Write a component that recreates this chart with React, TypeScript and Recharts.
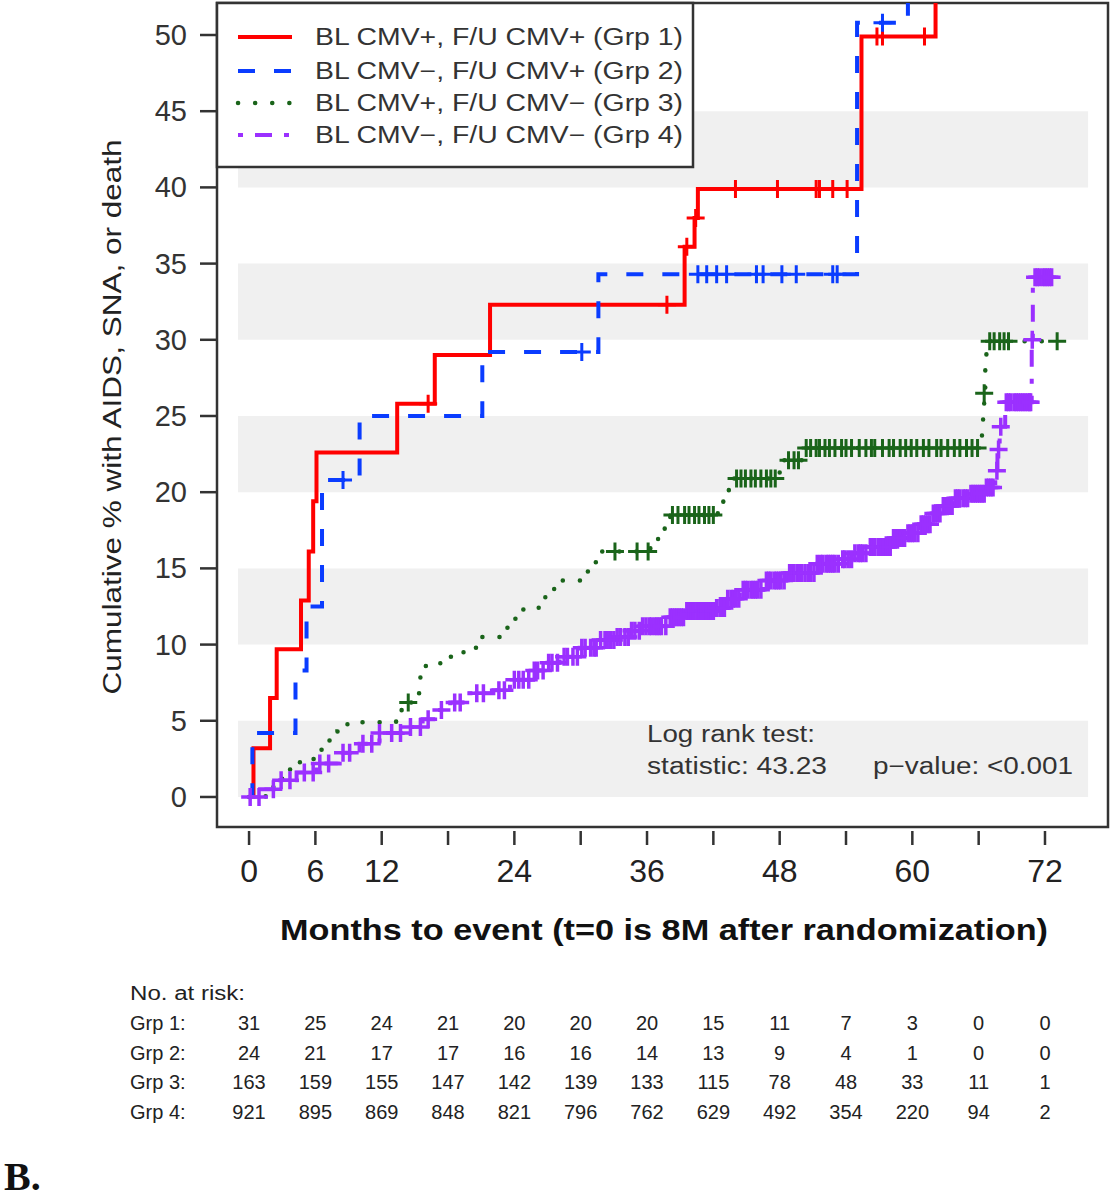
import React from 'react';
import {
  ComposedChart,
  Line,
  Scatter,
  XAxis,
  YAxis,
  ReferenceArea,
} from 'recharts';

// ---- data (months, cumulative %) ----
const GRP1_T = [0, 0.4, 1.9, 2.5, 4.7, 5.4, 5.8, 6.1, 13.4, 16.8, 21.8, 39.4, 40.3, 40.6, 55.4, 62.1];
const GRP1_V = [0, 3.2, 6.5, 9.7, 12.9, 16.1, 19.4, 22.6, 25.8, 29.0, 32.3, 36.1, 38.0, 39.9, 49.9, 70];
const GRP1_CENSOR = [16.2, 37.8, 39.6, 40.4, 44.0, 47.8, 51.3, 51.6, 52.8, 54.1, 56.8, 57.3, 61.1];

const GRP2_T = [0, 0.3, 4.2, 5.2, 6.6, 10.0, 21.1, 31.6, 55.0, 59.6];
const GRP2_V = [0, 4.2, 8.3, 12.5, 20.8, 25.0, 29.2, 34.3, 50.8, 70];
const GRP2_CENSOR = [8.5, 30.1, 40.6, 41.4, 42.3, 43.2, 45.9, 46.5, 48.2, 49.5, 52.8, 53.2, 57.3];

const GRP3_T = [0, 1.5, 2.2, 3.5, 4.6, 6.0, 7.0, 8.0, 8.9, 13.3, 13.8, 15.2, 15.4, 15.5, 15.6, 17.3, 19.4, 20.6, 22.8, 23.5, 24.2, 26.2, 26.8, 27.6, 30.2, 30.7, 31.4, 36.3, 37.0, 37.6, 38.1, 42.4, 42.9, 43.4, 43.8, 48.0, 48.4, 50.1, 66.3, 66.4, 66.5, 66.6, 66.7, 73.1];
const GRP3_V = [0, 0.6, 1.2, 1.8, 2.5, 3.1, 3.7, 4.3, 4.9, 5.5, 6.2, 6.8, 7.4, 8.0, 8.6, 9.2, 9.8, 10.5, 11.1, 11.7, 12.3, 12.9, 13.5, 14.2, 14.8, 15.4, 16.1, 16.7, 17.3, 17.9, 18.5, 19.1, 19.7, 20.3, 20.9, 21.5, 22.1, 22.9, 24.0, 25.1, 26.5, 28.0, 29.9, 29.9];
const GRP3_CENSOR = [14.4, 33.1, 35.1, 36.1, 38.3, 38.8, 39.4, 39.8, 40.3, 40.7, 41.2, 41.6, 42.0, 44.1, 44.5, 44.9, 45.4, 45.8, 46.3, 46.8, 47.2, 47.6, 48.8, 49.3, 49.7, 50.4, 50.8, 51.3, 51.6, 52.1, 52.5, 53.0, 53.6, 54.0, 54.5, 55.2, 55.8, 56.3, 56.6, 57.3, 57.9, 58.3, 58.9, 59.4, 59.9, 60.4, 61.0, 61.5, 62.2, 62.6, 63.2, 63.8, 64.3, 64.9, 65.4, 65.9, 66.5, 67.0, 67.4, 67.9, 68.3, 68.7, 73.1];

const GRP4_T = [0, 1.0, 2.5, 4.3, 6.1, 8.2, 10.0, 11.8, 13.9, 15.7, 17.0, 18.2, 19.7, 22.1, 23.6, 25.7, 27.0, 28.1, 29.9, 31.7, 33.3, 34.5, 35.6, 37.8, 39.6, 42.3, 43.3, 44.4, 46.5, 48.6, 51.4, 53.4, 54.7, 55.9, 58.2, 59.5, 60.6, 61.8, 62.8, 63.7, 65.2, 66.7, 67.5, 67.6, 67.7, 67.9, 68.4, 70.8, 70.9, 72.7];
const GRP4_V = [0, 0.5, 1.1, 1.6, 2.2, 2.9, 3.5, 4.2, 4.6, 5.1, 5.7, 6.2, 6.8, 7.0, 7.7, 8.3, 8.8, 9.2, 9.8, 10.3, 10.5, 10.9, 11.2, 11.8, 12.2, 12.4, 13.0, 13.6, 14.2, 14.7, 15.3, 15.6, 16.0, 16.4, 17.0, 17.3, 17.9, 18.6, 19.1, 19.6, 19.9, 20.3, 20.8, 21.4, 22.8, 24.3, 25.9, 30.0, 34.1, 34.1];
const GRP4_CENSOR = [
  0.1, 0.9, 2.2, 2.9, 3.7, 5.0, 5.8, 6.4, 7.2, 8.5, 9.1, 10.3, 11.1, 11.8, 12.9, 13.7, 14.6, 15.5, 16.2, 17.4,
  18.6, 19.1, 20.6, 21.2, 22.6, 23.1, 24.0, 24.4, 24.8, 25.3, 25.8, 26.1, 26.6, 27.1, 27.4, 27.9, 28.5, 28.8, 29.3,
  29.7, 30.1, 30.4, 30.9, 31.2, 31.4, 31.8, 32.2, 32.4, 32.7, 33.0, 33.3, 33.6, 34.0, 34.3, 34.6, 34.9, 35.3, 35.6,
  35.9, 36.2, 36.4, 36.7, 36.9, 37.1, 37.3, 37.7, 38.1, 38.3, 38.5, 38.7, 38.9, 39.1, 39.3, 39.6, 39.8, 40.0, 40.2,
  40.5, 40.7, 40.9, 41.1, 41.4, 41.6, 41.8, 42.0, 42.3, 42.6, 42.8, 43.0, 43.3, 43.6, 43.8, 44.0, 44.3, 44.7, 44.9,
  45.1, 45.4, 45.6, 45.8, 46.0, 46.3, 46.8, 47.0, 47.2, 47.5, 47.7, 47.9, 48.1, 48.4, 48.9, 49.1, 49.3, 49.6, 49.8,
  50.0, 50.3, 50.6, 50.8, 51.1, 51.4, 51.7, 51.9, 52.2, 52.4, 52.6, 52.8, 53.0, 53.3, 53.7, 53.9, 54.2, 54.5, 54.8,
  55.1, 55.3, 55.5, 55.8, 56.2, 56.4, 56.6, 56.9, 57.1, 57.4, 57.6, 57.8, 58.0, 58.3, 58.5, 58.7, 58.9, 59.1, 59.3,
  59.6, 59.8, 60.0, 60.2, 60.5, 60.8, 61.0, 61.2, 61.4, 61.6, 61.9, 62.1, 62.3, 62.5, 62.8, 63.0, 63.2, 63.4, 63.6,
  63.9, 64.1, 64.3, 64.6, 64.8, 65.0, 65.3, 65.5, 65.7, 65.9, 66.1, 66.3, 66.5, 66.7, 66.9, 67.1, 67.3, 67.65, 67.8,
  68.0, 68.5, 68.7, 68.9, 69.2, 69.4, 69.6, 69.8, 70.0, 70.2, 70.4, 70.6, 70.7, 70.85, 71.1, 71.3, 71.5, 71.8, 72.0,
  72.2, 72.4, 72.6,
];

const X_TICKS = [0, 6, 12, 18, 24, 30, 36, 42, 48, 54, 60, 66, 72];
const X_LABELED = [0, 6, 12, 24, 36, 48, 60, 72];
const Y_TICKS = [0, 5, 10, 15, 20, 25, 30, 35, 40, 45, 50];
const BANDS = [[0, 5], [10, 15], [20, 25], [30, 35], [40, 45]];

const LEGEND_LABELS = [
  'BL CMV+, F/U CMV+ (Grp 1)',
  'BL CMV\u2212, F/U CMV+ (Grp 2)',
  'BL CMV+, F/U CMV\u2212 (Grp 3)',
  'BL CMV\u2212, F/U CMV\u2212 (Grp 4)',
];

const RISK_ROWS = ['Grp 1:', 'Grp 2:', 'Grp 3:', 'Grp 4:'];
const RISK_1 = [31, 25, 24, 21, 20, 20, 20, 15, 11, 7, 3, 0, 0];
const RISK_2 = [24, 21, 17, 17, 16, 16, 14, 13, 9, 4, 1, 0, 0];
const RISK_3 = [163, 159, 155, 147, 142, 139, 133, 115, 78, 48, 33, 11, 1];
const RISK_4 = [921, 895, 869, 848, 821, 796, 762, 629, 492, 354, 220, 94, 2];

// ---- layout ----
const X_DOMAIN = [-2.9, 77.7];
const Y_DOMAIN = [-1.97, 52.1];
const PLOT = { left: 217, top: 3, right: 1108, bottom: 827 };
const FONT = '"Liberation Sans", Arial, sans-serif';
const COLORS = ['#ff0000', '#0a3cff', '#1a641a', '#9b30ff'];
const DASHES = [undefined, '17 19', '0.1 17', '5 12 17 12'];

const toSteps = (t: number[], v: number[]) => t.map((x, i) => ({ t: x, v: v[i] }));
const valueAt = (t: number[], v: number[], x: number) => {
  let out = 0;
  for (let i = 0; i < t.length; i++) if (t[i] <= x) out = v[i];
  return out;
};
const toCensor = (t: number[], v: number[], c: number[]) => c.map((x) => ({ t: x, v: valueAt(t, v, x) }));

const GROUPS = [
  { steps: toSteps(GRP1_T, GRP1_V), censor: toCensor(GRP1_T, GRP1_V, GRP1_CENSOR) },
  { steps: toSteps(GRP2_T, GRP2_V), censor: toCensor(GRP2_T, GRP2_V, GRP2_CENSOR) },
  { steps: toSteps(GRP3_T, GRP3_V), censor: toCensor(GRP3_T, GRP3_V, GRP3_CENSOR) },
  { steps: toSteps(GRP4_T, GRP4_V), censor: toCensor(GRP4_T, GRP4_V, GRP4_CENSOR) },
];

const xPx = (m: number) =>
  PLOT.left + ((m - X_DOMAIN[0]) / (X_DOMAIN[1] - X_DOMAIN[0])) * (PLOT.right - PLOT.left);

const plusShape = (color: string, w: number) => (props: any) => {
  const { cx, cy } = props;
  if (cx == null || cy == null) return <g />;
  return (
    <path
      d={`M${cx - 9},${cy}H${cx + 9}M${cx},${cy - 9}V${cy + 9}`}
      stroke={color}
      strokeWidth={w}
      fill="none"
    />
  );
};

const YTick = (props: any) => {
  const { x, y, payload } = props;
  return (
    <g>
      <line x1={x - 17} x2={x} y1={y} y2={y} stroke="#333" strokeWidth={2.5} />
      <text x={x - 30} y={y + 10} textAnchor="end" fontSize={29} fill="#333" fontFamily={FONT}>
        {payload.value}
      </text>
    </g>
  );
};

const XTick = (props: any) => {
  const { x, y, payload } = props;
  return (
    <g>
      <line x1={x} x2={x} y1={y + 4} y2={y + 18} stroke="#333" strokeWidth={2.5} />
      {X_LABELED.includes(payload.value) && (
        <text x={x} y={y + 55} textAnchor="middle" fontSize={32} fill="#222" fontFamily={FONT}>
          {payload.value}
        </text>
      )}
    </g>
  );
};

export default function App() {
  const riskRows = [RISK_1, RISK_2, RISK_3, RISK_4];
  const legendY = [37, 71, 103, 135];
  return (
    <div style={{ position: 'absolute', left: 0, top: 0, width: 1116, height: 1200, background: '#fff' }}>
      <ComposedChart
        width={1116}
        height={1200}
        margin={{ top: PLOT.top, right: 1116 - PLOT.right, left: PLOT.left - 60, bottom: 1200 - PLOT.bottom - 40 }}
      >
        <XAxis
          type="number"
          dataKey="t"
          domain={X_DOMAIN}
          allowDataOverflow
          ticks={X_TICKS}
          interval={0}
          axisLine={false}
          tickLine={false}
          tickSize={0}
          tickMargin={0}
          tick={<XTick />}
          height={40}
        />
        <YAxis
          type="number"
          dataKey="v"
          domain={Y_DOMAIN}
          allowDataOverflow
          ticks={Y_TICKS}
          interval={0}
          axisLine={false}
          tickLine={false}
          tickSize={0}
          tickMargin={0}
          tick={<YTick />}
          width={60}
        />
        {BANDS.map(([a, b]) => (
          <ReferenceArea key={a} x1={-1.0} x2={75.9} y1={a} y2={b} fill="#f0f0f0" fillOpacity={1} stroke="none" />
        ))}
        {GROUPS.map((g, i) => (
          <Line
            key={`l${i}`}
            data={g.steps}
            dataKey="v"
            type="stepAfter"
            stroke={COLORS[i]}
            strokeWidth={i === 2 ? 4.5 : 4}
            strokeDasharray={DASHES[i]}
            strokeLinecap={i === 2 ? 'round' : 'butt'}
            dot={false}
            activeDot={false}
            isAnimationActive={false}
          />
        ))}
        {GROUPS.map((g, i) => (
          <Scatter
            key={`s${i}`}
            data={g.censor}
            dataKey="v"
            shape={plusShape(COLORS[i], i === 3 ? 3.5 : 3)}
            isAnimationActive={false}
          />
        ))}
        <ReferenceArea
          x1={X_DOMAIN[0]}
          x2={X_DOMAIN[1]}
          y1={Y_DOMAIN[0]}
          y2={Y_DOMAIN[1]}
          fill="none"
          stroke="#333"
          strokeWidth={2.5}
        />
      </ComposedChart>

      <svg
        width={1116}
        height={1200}
        style={{ position: 'absolute', left: 0, top: 0, pointerEvents: 'none' }}
        fontFamily={FONT}
      >
        {/* legend */}
        <rect x={PLOT.left} y={PLOT.top} width={476} height={164} fill="#fff" stroke="#333" strokeWidth={2.5} />
        {LEGEND_LABELS.map((lab, i) => (
          <g key={lab}>
            <line
              x1={238}
              x2={292}
              y1={legendY[i]}
              y2={legendY[i]}
              stroke={COLORS[i]}
              strokeWidth={i === 2 ? 4.5 : 4}
              strokeDasharray={DASHES[i]}
              strokeLinecap={i === 2 ? 'round' : 'butt'}
            />
            <text x={315} y={legendY[i] + 8} fontSize={23} fill="#333" textLength={368} lengthAdjust="spacingAndGlyphs">
              {lab}
            </text>
          </g>
        ))}

        {/* log rank */}
        <text x={647} y={742} fontSize={23} fill="#333" textLength={168} lengthAdjust="spacingAndGlyphs">Log rank test:</text>
        <text x={647} y={774} fontSize={23} fill="#333" textLength={180} lengthAdjust="spacingAndGlyphs">statistic: 43.23</text>
        <text x={873} y={774} fontSize={23} fill="#333" textLength={200} lengthAdjust="spacingAndGlyphs">
          {'p\u2212value: <0.001'}
        </text>

        {/* axis titles */}
        <text
          transform="translate(121,417) rotate(-90)"
          textAnchor="middle"
          fontSize={25}
          fill="#222"
          textLength={555}
          lengthAdjust="spacingAndGlyphs"
        >
          Cumulative %  with AIDS, SNA, or death
        </text>
        <text x={280} y={940} fontSize={30} fontWeight="bold" fill="#111" textLength={768} lengthAdjust="spacingAndGlyphs">
          Months to event (t=0 is 8M after randomization)
        </text>

        {/* number at risk */}
        <text x={130} y={1000} fontSize={20} fill="#222" textLength={115} lengthAdjust="spacingAndGlyphs">No. at risk:</text>
        {RISK_ROWS.map((row, r) => (
          <g key={row}>
            <text x={130} y={1030 + r * 29.5} fontSize={20} fill="#222">{row}</text>
            {riskRows[r].map((n, c) => (
              <text key={c} x={xPx(X_TICKS[c])} y={1030 + r * 29.5} fontSize={20} fill="#222" textAnchor="middle">
                {n}
              </text>
            ))}
          </g>
        ))}

        <text x={4} y={1190} fontSize={40} fontWeight="bold" fontFamily='"Liberation Serif", "Times New Roman", serif' fill="#111">
          B.
        </text>
      </svg>
    </div>
  );
}
